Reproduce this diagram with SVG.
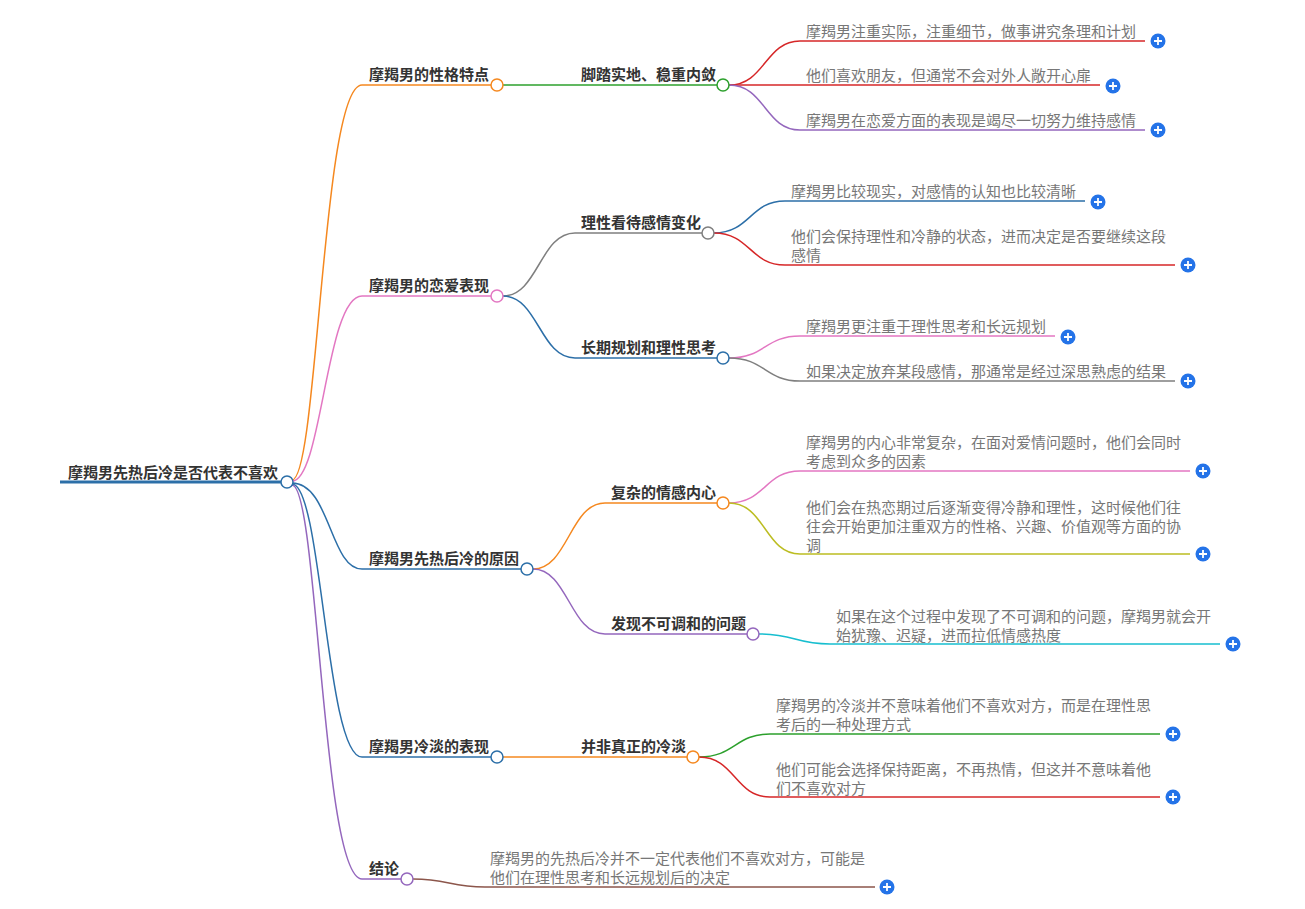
<svg xmlns="http://www.w3.org/2000/svg" width="1305" height="909" viewBox="0 0 1305 909">
<style>
text{font-family:"Noto Sans CJK SC","Liberation Sans",sans-serif;font-size:15px}
.t{font-weight:bold;fill:#333}
.r{fill:#333;font-weight:bold}
.l{fill:#777}
.c{fill:none;stroke-width:1.5}
.n{fill:#fff;stroke-width:1.5}
.p circle{fill:#2473e8}
.p path{stroke:#fff;stroke-width:1.8}
</style>
<defs>
<g id="plus"><circle r="7.5" fill="#2473e8"/><path d="M-4,0H4M0,-4V4" stroke="#fff" stroke-width="1.8"/></g>
</defs>
<rect width="1305" height="909" fill="#fff"/>
<g id="connectors">
<!-- root to level 1 -->
<path class="c" stroke="#f5881f" d="M292,480 C318,480 322,85 362,85 H491"/>
<path class="c" stroke="#e377c2" d="M292,481 C322,481 326,296 362,296 H491"/>
<path class="c" stroke="#2c6fa8" d="M292,483 C330,483 330,569 362,569 H521"/>
<path class="c" stroke="#2c6fa8" d="M292,484 C322,484 326,757 362,757 H491"/>
<path class="c" stroke="#9467bd" d="M292,485 C318,485 322,879 362,879 H401"/>
<!-- level 1 to level 2 -->
<path class="c" stroke="#2ca02c" d="M503,85 H717"/>
<path class="c" stroke="#7f7f7f" d="M503,296 C538,296 540,233 575,233 H702"/>
<path class="c" stroke="#2c6fa8" d="M503,296 C538,296 540,358 575,358 H717"/>
<path class="c" stroke="#f5881f" d="M533,569 C568,569 570,503 605,503 H717"/>
<path class="c" stroke="#9467bd" d="M533,569 C568,569 570,634 605,634 H747"/>
<path class="c" stroke="#f5881f" d="M503,757 H687"/>
<!-- level 2 to leaves -->
<path class="c" stroke="#d62728" d="M729,85 C765,85 765,41 800,41 H1145"/>
<path class="c" stroke="#d62728" d="M729,85 H1100"/>
<path class="c" stroke="#9467bd" d="M729,85 C765,85 765,130 800,130 H1145"/>
<path class="c" stroke="#2c6fa8" d="M714,233 C750,233 750,201 785,201 H1085"/>
<path class="c" stroke="#d62728" d="M714,233 C750,233 750,265 785,265 H1175"/>
<path class="c" stroke="#e377c2" d="M729,358 C765,358 765,336 800,336 H1055"/>
<path class="c" stroke="#7f7f7f" d="M729,358 C765,358 765,381 800,381 H1175"/>
<path class="c" stroke="#e377c2" d="M729,503 C765,503 765,471 800,471 H1190"/>
<path class="c" stroke="#bcbd22" d="M729,503 C765,503 765,554 800,554 H1190"/>
<path class="c" stroke="#17becf" d="M759,634 C795,634 795,644 830,644 H1220"/>
<path class="c" stroke="#2ca02c" d="M699,757 C735,757 735,734 770,734 H1160"/>
<path class="c" stroke="#d62728" d="M699,757 C735,757 735,797 770,797 H1160"/>
<path class="c" stroke="#8c564b" d="M413,879 C448,879 450,887 485,887 H875"/>
</g>
<g id="root">
<path d="M60,482 H281" stroke="#2c6fa8" stroke-width="3"/>
<text class="r" x="68" y="478">摩羯男先热后冷是否代表不喜欢</text>
<circle class="n" cx="287" cy="482" r="6" stroke="#2c6fa8"/>
</g>
<g id="n1">
<text class="t" x="369" y="80">摩羯男的性格特点</text>
<circle class="n" cx="497" cy="85" r="6" stroke="#f5881f"/>
</g>
<g id="n2">
<text class="t" x="369" y="291">摩羯男的恋爱表现</text>
<circle class="n" cx="497" cy="296" r="6" stroke="#e377c2"/>
</g>
<g id="n3">
<text class="t" x="369" y="564">摩羯男先热后冷的原因</text>
<circle class="n" cx="527" cy="569" r="6" stroke="#2c6fa8"/>
</g>
<g id="n4">
<text class="t" x="369" y="752">摩羯男冷淡的表现</text>
<circle class="n" cx="497" cy="757" r="6" stroke="#2c6fa8"/>
</g>
<g id="n5">
<text class="t" x="369" y="874">结论</text>
<circle class="n" cx="407" cy="879" r="6" stroke="#9467bd"/>
</g>
<g id="n1a">
<text class="t" x="581" y="80">脚踏实地、稳重内敛</text>
<circle class="n" cx="723" cy="85" r="6" stroke="#2ca02c"/>
</g>
<g id="n2a">
<text class="t" x="581" y="228">理性看待感情变化</text>
<circle class="n" cx="708" cy="233" r="6" stroke="#7f7f7f"/>
</g>
<g id="n2b">
<text class="t" x="581" y="353">长期规划和理性思考</text>
<circle class="n" cx="723" cy="358" r="6" stroke="#2c6fa8"/>
</g>
<g id="n3a">
<text class="t" x="611" y="498">复杂的情感内心</text>
<circle class="n" cx="723" cy="503" r="6" stroke="#f5881f"/>
</g>
<g id="n3b">
<text class="t" x="611" y="629">发现不可调和的问题</text>
<circle class="n" cx="753" cy="634" r="6" stroke="#9467bd"/>
</g>
<g id="n4a">
<text class="t" x="581" y="752">并非真正的冷淡</text>
<circle class="n" cx="693" cy="757" r="6" stroke="#f5881f"/>
</g>
<g id="l1">
<text class="l" x="806" y="37">摩羯男注重实际，注重细节，做事讲究条理和计划</text>
<use href="#plus" x="1158" y="41"/>
</g>
<g id="l2">
<text class="l" x="806" y="81">他们喜欢朋友，但通常不会对外人敞开心扉</text>
<use href="#plus" x="1113" y="86"/>
</g>
<g id="l3">
<text class="l" x="806" y="126">摩羯男在恋爱方面的表现是竭尽一切努力维持感情</text>
<use href="#plus" x="1158" y="130"/>
</g>
<g id="l4">
<text class="l" x="791" y="197">摩羯男比较现实，对感情的认知也比较清晰</text>
<use href="#plus" x="1098" y="202"/>
</g>
<g id="l5">
<text class="l" x="791" y="242">他们会保持理性和冷静的状态，进而决定是否要继续这段</text>
<text class="l" x="791" y="261">感情</text>
<use href="#plus" x="1188" y="265"/>
</g>
<g id="l6">
<text class="l" x="806" y="332">摩羯男更注重于理性思考和长远规划</text>
<use href="#plus" x="1068" y="337"/>
</g>
<g id="l7">
<text class="l" x="806" y="377">如果决定放弃某段感情，那通常是经过深思熟虑的结果</text>
<use href="#plus" x="1188" y="381"/>
</g>
<g id="l8">
<text class="l" x="806" y="448">摩羯男的内心非常复杂，在面对爱情问题时，他们会同时</text>
<text class="l" x="806" y="467">考虑到众多的因素</text>
<use href="#plus" x="1203" y="471"/>
</g>
<g id="l9">
<text class="l" x="806" y="513">他们会在热恋期过后逐渐变得冷静和理性，这时候他们往</text>
<text class="l" x="806" y="532">往会开始更加注重双方的性格、兴趣、价值观等方面的协</text>
<text class="l" x="806" y="551">调</text>
<use href="#plus" x="1203" y="554"/>
</g>
<g id="l10">
<text class="l" x="836" y="622">如果在这个过程中发现了不可调和的问题，摩羯男就会开</text>
<text class="l" x="836" y="641">始犹豫、迟疑，进而拉低情感热度</text>
<use href="#plus" x="1233" y="644"/>
</g>
<g id="l11">
<text class="l" x="776" y="711">摩羯男的冷淡并不意味着他们不喜欢对方，而是在理性思</text>
<text class="l" x="776" y="730">考后的一种处理方式</text>
<use href="#plus" x="1173" y="734"/>
</g>
<g id="l12">
<text class="l" x="776" y="775">他们可能会选择保持距离，不再热情，但这并不意味着他</text>
<text class="l" x="776" y="794">们不喜欢对方</text>
<use href="#plus" x="1173" y="797"/>
</g>
<g id="l13">
<text class="l" x="490" y="864">摩羯男的先热后冷并不一定代表他们不喜欢对方，可能是</text>
<text class="l" x="490" y="883">他们在理性思考和长远规划后的决定</text>
<use href="#plus" x="887" y="887"/>
</g>
</svg>
